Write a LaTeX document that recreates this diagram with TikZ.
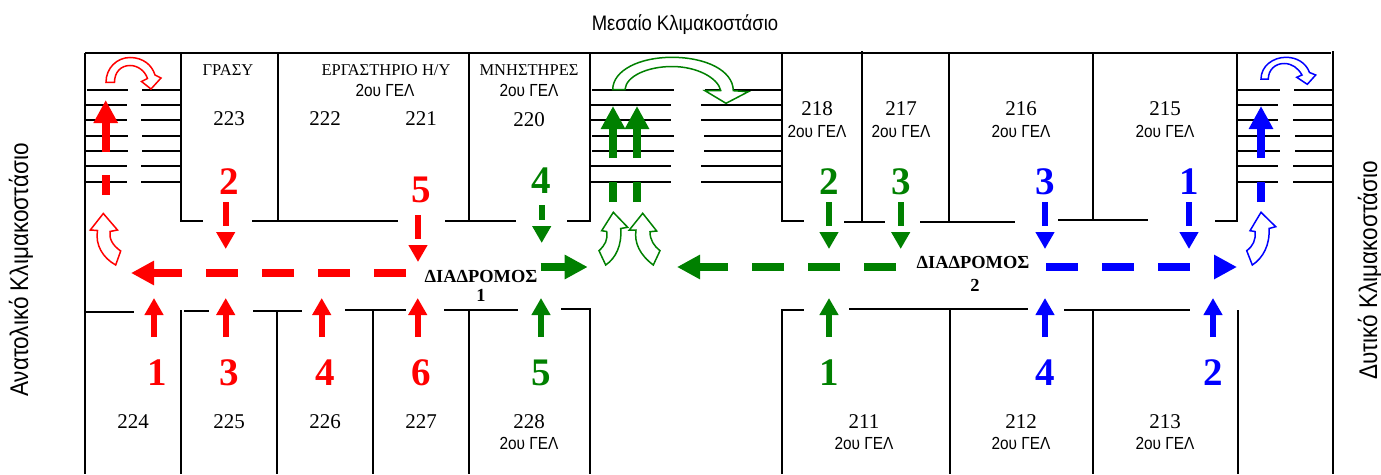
\documentclass[tikz,border=0pt]{standalone}
\usepackage{fontspec}
\setmainfont{Liberation Serif}
\newfontfamily\narrowsans[FakeStretch=0.88]{Liberation Sans}
\usetikzlibrary{arrows, arrows.meta}
\definecolor{routegreen}{RGB}{0,128,0}
\definecolor{routeblue}{RGB}{0,0,255}
\definecolor{routered}{RGB}{255,0,0}
\tikzstyle{wall}=[line width=1.5pt, black]
\tikzstyle{bigarrow}=[line width=8pt, arrows={-{Triangle[length=23pt,width=23pt]}}]
\tikzstyle{bigdash}=[bigarrow, dash pattern=on 32pt off 24pt]
\tikzstyle{stairtail}=[line width=8pt]
\tikzstyle{smallup}=[line width=6pt, arrows={-{Triangle[length=17pt,width=18pt]}}]
\tikzstyle{smalldown}=[smallup, dash pattern=on 24pt off 6pt]
\tikzstyle{turn}=[line width=1.5pt, fill=white, line join=miter]
\tikzset{
    room/.style={font=\fontsize{21}{21}\selectfont, inner sep=0pt},
    roomname/.style={font=\fontsize{16.5}{16.5}\selectfont, inner sep=0pt},
    gel/.style={font=\narrowsans\fontsize{17.5}{17.5}\selectfont, inner sep=0pt},
    step num/.style={font=\fontsize{39}{39}\selectfont\bfseries, inner sep=0pt},
    hall/.style={font=\fontsize{18.4}{18.4}\selectfont\bfseries, inner sep=0pt},
    stair name/.style={font=\narrowsans\fontsize{21}{21}\selectfont, inner sep=0pt},
    stair side/.style={font=\narrowsans\fontsize{25.6}{25.6}\selectfont, inner sep=0pt, rotate=90}
}
\begin{document}
\begin{tikzpicture}[x=1pt, y=-1pt]
  \useasboundingbox (0,0) rectangle (1381,474);

  %%%%%%%% walls %%%%%%%%%%%%%%%%%%%%%%%%%%%
  \draw[wall] (85,53) -- (1331,53);
  \draw[wall] (85,53) -- (85,474) (1333,51) -- (1333,474);
  % upper rooms
  \draw[wall] (181,53) -- (181,221) -- (203,221) (252,221) -- (398,221);
  \draw[wall] (278,53) -- (278,221);
  \draw[wall] (469,53) -- (469,221) (445,221) -- (516,221);
  \draw[wall] (567,221) -- (590,221) -- (590,53);
  \draw[wall] (782,53) -- (782,221) -- (804,221) (844,222) -- (885,222);
  \draw[wall] (862,51) -- (862,222);
  \draw[wall] (920,222) -- (1015,222) (949,53) -- (949,222);
  \draw[wall] (1058,220) -- (1148,220) (1093,53) -- (1093,220);
  \draw[wall] (1215,221) -- (1237,221) -- (1237,53);
  % lower rooms
  \draw[wall] (85,312) -- (134,312);
  \draw[wall] (181,310) -- (181,474) (184,311) -- (209,311);
  \draw[wall] (253,311) -- (302,311) (277,311) -- (277,474);
  \draw[wall] (345,310) -- (406,310) (373,309) -- (373,474);
  \draw[wall] (444,310) -- (518,310) (469,310) -- (469,474);
  \draw[wall] (561,309) -- (590,309) -- (590,474);
  \draw[wall] (782,474) -- (782,310) -- (804,310) (849,309) -- (1028,309);
  \draw[wall] (950,309) -- (950,474);
  \draw[wall] (1064,310) -- (1190,310) (1093,310) -- (1093,474);
  \draw[wall] (1238,310) -- (1238,474);

  %%%%%%%% stairs %%%%%%%%%%%%%%%%%%%%%%%%%%%
  \draw[wall] (87,90) -- (128,90) (142,90) -- (181,90)
              (85,105) -- (127,105) (141,105) -- (181,105)
              (85,120) -- (127,120) (141,120) -- (181,120)
              (85,136) -- (128,136) (142,136) -- (181,136)
              (85,151) -- (128,151) (142,151) -- (181,151)
              (85,166) -- (127,166) (141,166) -- (181,166)
              (85,182) -- (127,182) (141,182) -- (181,182);
  \draw[wall] (592,90) -- (674,90) (705,90) -- (782,90)
              (590,105) -- (671,105) (701,105) -- (782,105)
              (590,120) -- (671,120) (701,120) -- (782,120)
              (592,136) -- (674,136) (704,136) -- (782,136)
              (592,151) -- (674,151) (704,151) -- (782,151)
              (590,166) -- (671,166) (701,166) -- (782,166)
              (590,182) -- (671,182) (701,182) -- (782,182);
  \draw[wall] (1238,90) -- (1280,90) (1294,90) -- (1334,90)
              (1238,105) -- (1278,105) (1293,105) -- (1334,105)
              (1238,120) -- (1278,120) (1293,120) -- (1334,120)
              (1238,136) -- (1280,136) (1295,136) -- (1334,136)
              (1238,151) -- (1280,151) (1295,151) -- (1334,151)
              (1238,166) -- (1278,166) (1293,166) -- (1334,166)
              (1238,182) -- (1278,182) (1293,182) -- (1334,182);

  %%%%%%%% red route %%%%%%%%%%%%%%%%%%%%%%%%%%%
  \draw[bigdash, routered] (406,273) -- (131,273);
  \draw[stairtail, routered] (105.7,195) -- (105.7,175);
  \draw[bigarrow, routered] (105.7,152) -- (105.7,100);
  \draw[smalldown, routered] (225.7,202) -- (225.7,249);
  \draw[smalldown, routered] (418,215) -- (418,262);
  \draw[smallup, routered] (154,337) -- (154,298);
  \draw[smallup, routered] (225.7,337) -- (225.7,298);
  \draw[smallup, routered] (321.7,337) -- (321.7,298);
  \draw[smallup, routered] (417.7,337) -- (417.7,298);
  \draw[turn, draw=routered] (106,82.3) .. controls (106,68) and (117,57.5) .. (130,57.5)
      .. controls (143,57.5) and (152,65) .. (155,75) -- (161,78) -- (151,89) -- (141.5,81.5)
      -- (147.5,78.5) .. controls (145,71) and (138,65.5) .. (130,65.5)
      .. controls (121,65.5) and (114.5,72) .. (114.5,82.3) -- cycle;
  \draw[turn, draw=routered] (103.3,213.5) -- (117.5,230) -- (110,231.5)
      .. controls (109,238) and (112,245) .. (120.7,251) -- (115.7,265)
      .. controls (103,258) and (95,245) .. (97.5,230.5) -- (90.3,230) -- cycle;

  %%%%%%%% green route %%%%%%%%%%%%%%%%%%%%%%%%%%%
  \draw[bigarrow, routegreen] (540.7,267) -- (587.7,267);
  \draw[bigdash, routegreen] (896,267) -- (677,267);
  \draw[stairtail, routegreen] (613,202) -- (613,182);
  \draw[stairtail, routegreen] (637,202) -- (637,182);
  \draw[bigarrow, routegreen] (613,158) -- (613,106);
  \draw[bigarrow, routegreen] (637,158) -- (637,106);
  \draw[smallup, routegreen, dash pattern=on 15pt off 6pt] (541.7,205) -- (541.7,243);
  \draw[smalldown, routegreen] (829,202) -- (829,249);
  \draw[smalldown, routegreen] (900.7,202) -- (900.7,249);
  \draw[smallup, routegreen] (541,337) -- (541,298);
  \draw[smallup, routegreen] (829,337) -- (829,298);
  \draw[turn, draw=routegreen] (612.7,89.5) .. controls (613,70) and (640,57.3) .. (672,57.3)
      .. controls (705,57.3) and (733,70) .. (733.3,90.7) -- (748.3,91.7) -- (726,103.3)
      -- (705,90.7) -- (720.7,90.5) .. controls (718,78) and (697,66.5) .. (672,66.5)
      .. controls (648,66.5) and (626,76) .. (625,89.5) -- cycle;
  \draw[turn, draw=routegreen] (613.3,212.3) -- (627.7,227.3) -- (620.7,228.5)
      .. controls (622,245) and (616,258) .. (605.7,265) -- (599,250.7)
      .. controls (605,245) and (608,240) .. (606.7,231.5) -- (601.7,230.7) -- cycle;
  \draw[turn, draw=routegreen] (642.7,213.3) -- (656.7,231) -- (650,231.7)
      .. controls (650,240) and (654,246) .. (660,250.7) -- (653.3,265)
      .. controls (640,255) and (634,243) .. (636,230) -- (629.3,230) -- cycle;

  %%%%%%%% blue route %%%%%%%%%%%%%%%%%%%%%%%%%%%
  \draw[bigdash, routeblue] (1046,267) -- (1237,267);
  \draw[stairtail, routeblue] (1261,202) -- (1261,182);
  \draw[bigarrow, routeblue] (1261,158) -- (1261,106);
  \draw[smalldown, routeblue] (1045,202) -- (1045,249);
  \draw[smalldown, routeblue] (1189,202) -- (1189,249);
  \draw[smallup, routeblue] (1045,337) -- (1045,298);
  \draw[smallup, routeblue] (1213,337) -- (1213,298);
  \draw[turn, draw=routeblue] (1261,79) .. controls (1261,66) and (1273,57.3) .. (1286,57.3)
      .. controls (1297,57.3) and (1306,63) .. (1309.5,72.5) -- (1315.7,75) -- (1307.3,84.3)
      -- (1296.7,77.3) -- (1302,75) .. controls (1298,68) and (1292,63.5) .. (1284,63.5)
      .. controls (1275,63.5) and (1268.3,70) .. (1268.3,79) -- cycle;
  \draw[turn, draw=routeblue] (1261,212.3) -- (1275.7,226.7) -- (1269,228.5)
      .. controls (1270,245) and (1263,258) .. (1252.3,265) -- (1246.7,250.7)
      .. controls (1253,246) and (1256,240) .. (1255,231.5) -- (1250,230.7) -- cycle;

  %%%%%%%% staircase names %%%%%%%%%%%%%%%%%%%%%%%%%%%
  \node[stair name] (st_mid) at (685,25) {Μεσαίο Κλιμακοστάσιο};
  \node[stair side] (st_east) at (21,270) {Ανατολικό Κλιμακοστάσιο};
  \node[stair side] (st_west) at (1370,270) {Δυτικό Κλιμακοστάσιο};

  %%%%%%%% upper rooms %%%%%%%%%%%%%%%%%%%%%%%%%%%
  \node[roomname] (n_grasy) at (228,70) {ΓΡΑΣΥ};
  \node[roomname] (n_lab) at (386,70) {ΕΡΓΑΣΤΗΡΙΟ Η/Υ};
  \node[gel] (g_lab) at (385,90) {2ου ΓΕΛ};
  \node[roomname] (n_mnh) at (529,70) {ΜΝΗΣΤΗΡΕΣ};
  \node[gel] (g_220) at (529,90) {2ου ΓΕΛ};
  \node[room] (r_223) at (229,119) {223};
  \node[room] (r_222) at (325,119) {222};
  \node[room] (r_221) at (421,119) {221};
  \node[room] (r_220) at (529,120) {220};
  \node[room] (r_218) at (817,109) {218};
  \node[gel] (g_218) at (817,131) {2ου ΓΕΛ};
  \node[room] (r_217) at (901,109) {217};
  \node[gel] (g_217) at (901,131) {2ου ΓΕΛ};
  \node[room] (r_216) at (1021,109) {216};
  \node[gel] (g_216) at (1021,131) {2ου ΓΕΛ};
  \node[room] (r_215) at (1165,109) {215};
  \node[gel] (g_215) at (1165,131) {2ου ΓΕΛ};

  %%%%%%%% lower rooms %%%%%%%%%%%%%%%%%%%%%%%%%%%
  \node[room] (r_224) at (133,422) {224};
  \node[room] (r_225) at (229,422) {225};
  \node[room] (r_226) at (325,422) {226};
  \node[room] (r_227) at (421,422) {227};
  \node[room] (r_228) at (529,422) {228};
  \node[gel] (g_228) at (529,443) {2ου ΓΕΛ};
  \node[room] (r_211) at (864,422) {211};
  \node[gel] (g_211) at (864,443) {2ου ΓΕΛ};
  \node[room] (r_212) at (1021,422) {212};
  \node[gel] (g_212) at (1021,443) {2ου ΓΕΛ};
  \node[room] (r_213) at (1165,422) {213};
  \node[gel] (g_213) at (1165,443) {2ου ΓΕΛ};

  %%%%%%%% corridors %%%%%%%%%%%%%%%%%%%%%%%%%%%
  \node[hall] (hall1) at (481,276) {ΔΙΑΔΡΟΜΟΣ};
  \node[hall] (hall1n) at (481,295) {1};
  \node[hall] (hall2) at (973,262) {ΔΙΑΔΡΟΜΟΣ};
  \node[hall] (hall2n) at (975,285) {2};

  %%%%%%%% step numbers %%%%%%%%%%%%%%%%%%%%%%%%%%%
  \node[step num, routered] (red2) at (229,182) {2};
  \node[step num, routered] (red5) at (421,190) {5};
  \node[step num, routered] (red1) at (157,373) {1};
  \node[step num, routered] (red3) at (229,373) {3};
  \node[step num, routered] (red4) at (325,373) {4};
  \node[step num, routered] (red6) at (421,373) {6};
  \node[step num, routegreen] (green4) at (541,181) {4};
  \node[step num, routegreen] (green2) at (829,182) {2};
  \node[step num, routegreen] (green3) at (901,182) {3};
  \node[step num, routegreen] (green5) at (541,373) {5};
  \node[step num, routegreen] (green1) at (829,373) {1};
  \node[step num, routeblue] (blue3) at (1045,182) {3};
  \node[step num, routeblue] (blue1) at (1189,182) {1};
  \node[step num, routeblue] (blue4) at (1045,373) {4};
  \node[step num, routeblue] (blue2) at (1213,373) {2};
\end{tikzpicture}
\end{document}
